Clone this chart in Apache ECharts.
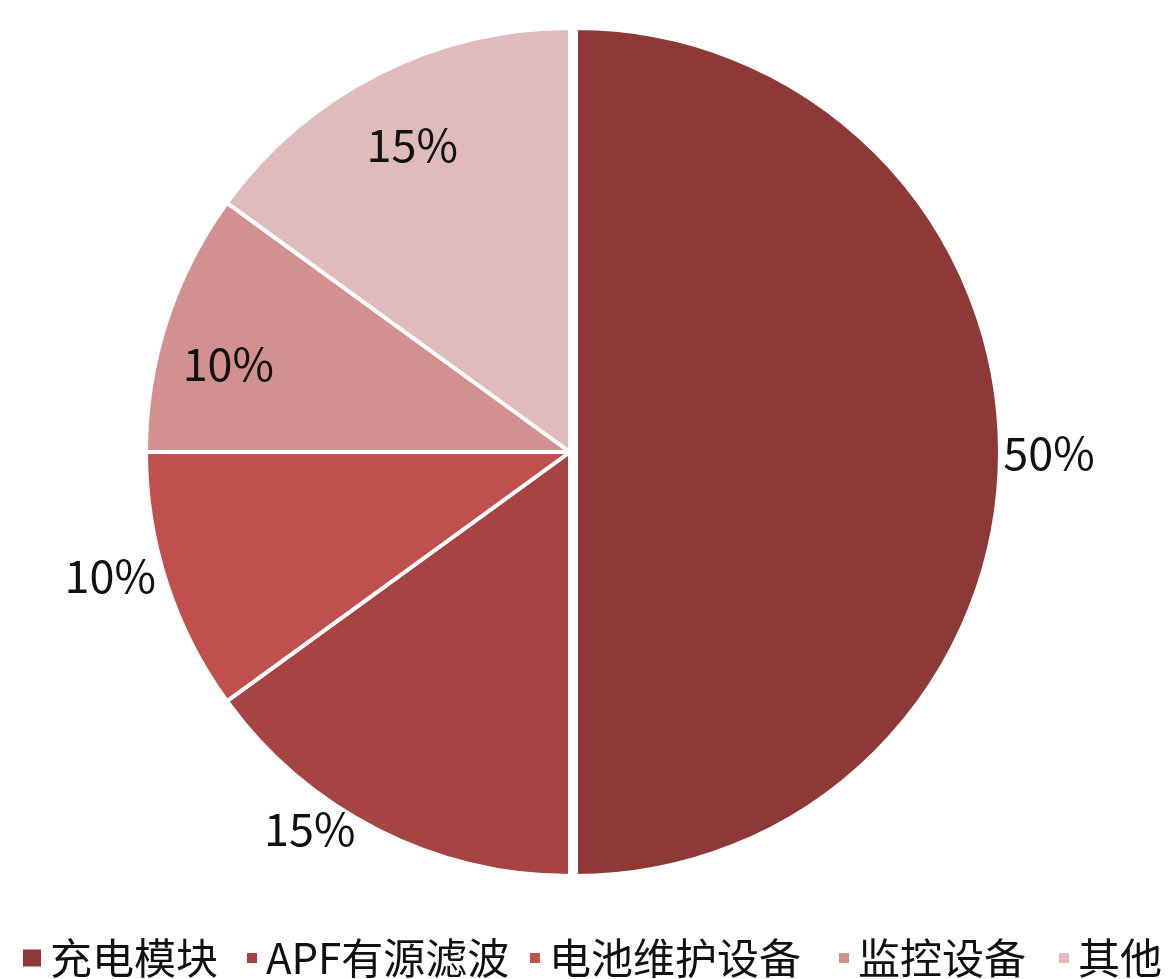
<!DOCTYPE html>
<html>
<head>
<meta charset="utf-8">
<script src="https://cdn.jsdelivr.net/npm/echarts@6/dist/echarts.min.js"></script>
<style>
  html, body { margin: 0; padding: 0; background: #fff; }
  #chart { width: 1168px; height: 979px; }
</style>
</head>
<body>
<div id="chart"></div>
<script>
const categories = ["充电模块", "APF有源滤波", "电池维护设备", "监控设备", "其他"];
const shares = [50, 15, 10, 10, 15];
const colors = ["#8c3937", "#a54443", "#c0504d", "#d29190", "#e0bbbb"];

const font = "'Noto Sans CJK SC', sans-serif";
const center = [570, 452];
// which labels sit inside the pie and which outside
const innerLabels = ["监控设备", "其他"];
// small nudges of the percentage labels, by category
const labelNudge = {
  "充电模块": [5, 1],
  "APF有源滤波": [-45, -45],
  "电池维护设备": [-9, -23],
  "监控设备": [-5, 21],
  "其他": [3, 8],
};

const myChart = echarts.init(document.getElementById("chart"));

function labelRing(names, radius) {
  return {
    type: "pie",
    center: center,
    radius: radius,
    startAngle: 90,
    silent: true,
    animation: false,
    itemStyle: { color: "rgba(0,0,0,0)" },
    labelLine: { show: false },
    emphasis: { disabled: true },
    labelLayout: (params) => {
      const n = labelNudge[categories[params.dataIndex]];
      return { dx: n[0], dy: n[1] };
    },
    data: categories.map((name, i) => ({
      name: name,
      value: shares[i],
      label: {
        show: names.indexOf(name) >= 0,
        position: "inside",
        formatter: "{c}%",
        fontFamily: font,
        fontSize: 45,
        color: "#111",
      },
    })),
  };
}

const legendLeft = [16, 240, 523, 832, 1052];
const legends = categories.map((name, i) => ({
  left: legendLeft[i],
  top: 932,
  orient: "horizontal",
  itemWidth: i === 0 ? 20 : 12,
  itemHeight: i === 0 ? 19 : 12,
  selectedMode: false,
  textStyle: {
    fontFamily: font,
    fontSize: 42,
    color: "#111",
    padding: [0, 0, 0, 3],
  },
  data: [{ name: name, icon: "rect" }],
}));

const option = {
  backgroundColor: "#fff",
  animation: false,
  legend: legends,
  series: [
    {
      type: "pie",
      center: center,
      radius: 424,
      startAngle: 90,
      selectedMode: "single",
      selectedOffset: 6,
      itemStyle: { borderColor: "#fff", borderWidth: 4 },
      label: { show: false },
      labelLine: { show: false },
      emphasis: { disabled: true },
      data: categories.map((name, i) => ({
        name: name,
        value: shares[i],
        selected: i === 0,
        itemStyle: { color: colors[i] },
      })),
    },
    labelRing(innerLabels, [282, 420]),
    labelRing(categories.filter((n) => innerLabels.indexOf(n) < 0), [430, 512]),
  ],
};
myChart.setOption(option);
</script>
</body>
</html>
